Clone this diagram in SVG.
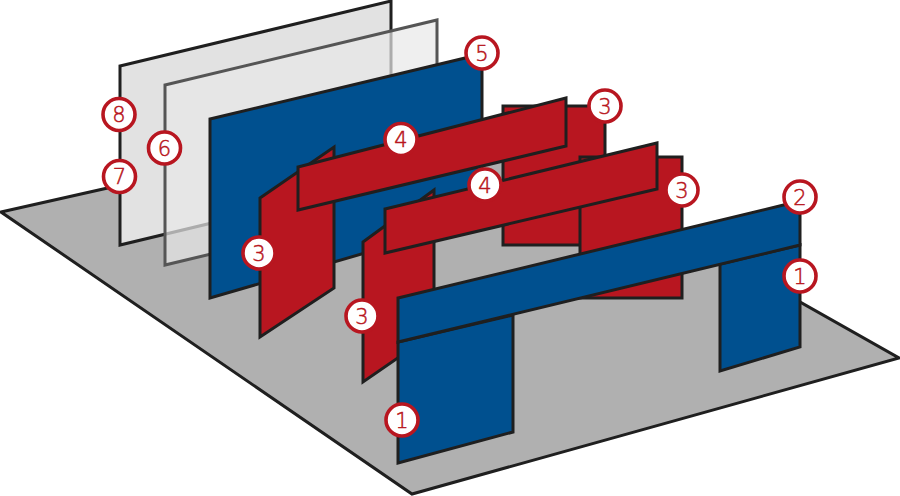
<svg xmlns="http://www.w3.org/2000/svg" width="900" height="496" viewBox="0 0 900 496">
<style>
.s{stroke:#1f1f1f;stroke-width:3;stroke-linejoin:miter}
.b{fill:#00508f}.r{fill:#b81620}
.badge circle{fill:#fff;stroke:#b81620;stroke-width:3.6}
.badge text{font-family:"DejaVu Sans Light","DejaVu Sans",sans-serif;font-weight:300;font-size:21px;fill:#b81620;stroke:#b81620;stroke-width:.5;text-anchor:middle}
</style>
<rect width="900" height="496" fill="#fff"/>
<polygon id="floor" class="s" fill="#b0b0b0" points="1,212 459,109 899,358 412,494"/>
<polygon id="pane-8" class="s" fill="#e2e2e2" points="120,66 391,1 391,180 120,245"/>
<polygon id="pane-6" fill="#e8e8e8" fill-opacity=".7" stroke="#555" stroke-width="3" points="165,85 437,20 437,200 165,265"/>
<polygon id="panel-5" class="s b" points="210,119 482,54 482,219 210,298"/>
<polygon id="red-back" class="s r" points="503,106 605,106 605,245 503,245"/>
<polygon id="red-mid" class="s r" points="580,157 682,157 682,298 580,298"/>
<polygon id="red-left" class="s r" points="260,198 334,147 334,288 260,337"/>
<polygon id="beam-4a" class="s r" points="298,167 566,98 566,146 298,210"/>
<polygon id="red-front" class="s r" points="363,242 434,190 434,333 363,382"/>
<polygon id="beam-4b" class="s r" points="385,209 657,143 657,189 385,253"/>
<polygon id="leg-left" class="s b" points="398,342 513,315 513,432 398,463"/>
<polygon id="leg-right" class="s b" points="720,264 800,245 800,347 720,371"/>
<polygon id="beam-2" class="s b" points="398,298 800,201 800,245 398,342"/>
<g id="badges">
<g id="b8" class="badge"><circle cx="119" cy="114.500" r="16"/><text x="119" y="122">8</text></g>
<g id="b7" class="badge"><circle cx="119.500" cy="176.500" r="16"/><text x="119.500" y="184">7</text></g>
<g id="b6" class="badge"><circle cx="164.500" cy="148" r="16"/><text x="164.500" y="155.500">6</text></g>
<g id="b5" class="badge"><circle cx="482" cy="53" r="16"/><text x="482" y="60.500">5</text></g>
<g id="b3a" class="badge"><circle cx="605" cy="106" r="16"/><text x="605" y="113.500">3</text></g>
<g id="b4a" class="badge"><circle cx="401" cy="139.500" r="16"/><text x="401" y="147">4</text></g>
<g id="b4b" class="badge"><circle cx="485" cy="185" r="16"/><text x="485" y="192.500">4</text></g>
<g id="b3b" class="badge"><circle cx="682" cy="190" r="16"/><text x="682" y="197.500">3</text></g>
<g id="b2" class="badge"><circle cx="800" cy="197" r="16"/><text x="800" y="204.500">2</text></g>
<g id="b1a" class="badge"><circle cx="800" cy="276" r="16"/><text x="800" y="283.500">1</text></g>
<g id="b3c" class="badge"><circle cx="259" cy="253" r="16"/><text x="259" y="260.500">3</text></g>
<g id="b3d" class="badge"><circle cx="362" cy="316" r="16"/><text x="362" y="323.500">3</text></g>
<g id="b1b" class="badge"><circle cx="402" cy="420" r="16"/><text x="402" y="427.500">1</text></g>
</g>
</svg>
